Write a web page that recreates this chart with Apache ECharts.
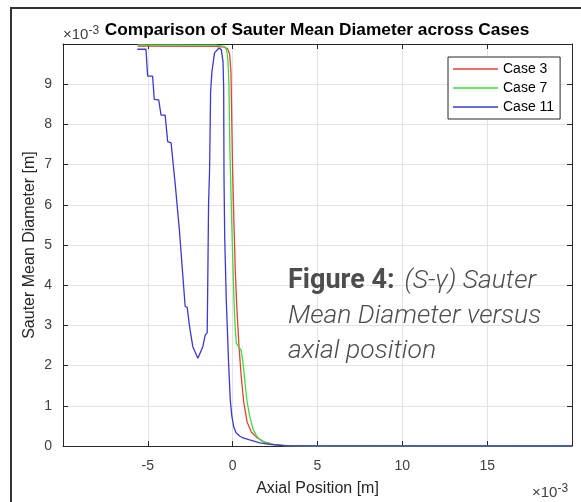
<!DOCTYPE html>
<html><head><meta charset="utf-8">
<script src="https://cdn.jsdelivr.net/npm/echarts@6/dist/echarts.min.js"></script>
<style>html,body{margin:0;padding:0;background:#fff}#c{width:581px;height:502px}</style>
</head><body><div id="c"></div>
<script>
// values in units of 1e-3 (mm)
const xTickLabels = ['-5', '0', '5', '10', '15'];
const yTickLabels = ['0', '1', '2', '3', '4', '5', '6', '7', '8', '9'];
const seriesNames = ['Case 3', 'Case 7', 'Case 11'];

const case3X = [-5.6, -1.0, -0.45, -0.3, -0.18, -0.1, -0.05, 0.0, 0.08, 0.15, 0.25, 0.37, 0.5, 0.65, 0.85, 1.1, 1.4, 1.8, 2.4, 3.2, 4.5, 20];
const case3Y = [9.95, 9.94, 9.92, 9.88, 9.75, 9.3, 8.0, 6.8, 5.5, 4.4, 3.4, 2.5, 1.75, 1.1, 0.6, 0.35, 0.22, 0.11, 0.04, 0.01, 0, 0];

const case7X = [-5.6, -1.0, -0.5, -0.35, -0.28, -0.22, -0.17, -0.1, -0.02, 0.08, 0.15, 0.22, 0.35, 0.5, 0.6, 0.72, 0.85, 1.0, 1.2, 1.4, 1.6, 1.9, 2.2, 2.6, 3.0, 4.5, 20];
const case7Y = [9.98, 9.97, 9.94, 9.85, 9.6, 9.0, 7.5, 6.3, 5.0, 3.6, 2.9, 2.55, 2.47, 2.38, 2.1, 1.6, 1.1, 0.75, 0.42, 0.26, 0.16, 0.09, 0.05, 0.02, 0.01, 0, 0];

const case11X = [-5.62, -5.11, -5.01, -4.72, -4.62, -4.36, -4.22, -3.98, -3.83, -3.63, -3.39, -3.33, -3.14, -3.04, -2.80, -2.68, -2.54, -2.35, -2.05, -1.76, -1.62, -1.50, -1.46, -1.42, -1.36, -1.30, -1.22, -1.07, -0.81, -0.67, -0.57, -0.53, -0.51, -0.47, -0.37, -0.24, -0.14, -0.05, 0.06, 0.20, 0.41, 0.61, 1.0, 1.6, 2.2, 3.0, 4.0, 20];
const case11Y = [9.87, 9.87, 9.20, 9.20, 8.62, 8.61, 8.23, 8.23, 7.57, 7.54, 6.53, 6.52, 5.37, 5.33, 3.47, 3.45, 2.97, 2.47, 2.18, 2.47, 2.76, 2.82, 4.38, 6.04, 6.87, 8.82, 9.32, 9.78, 9.90, 9.86, 9.57, 8.9, 6.67, 5.21, 3.55, 2.06, 1.14, 0.75, 0.48, 0.33, 0.25, 0.20, 0.15, 0.08, 0.04, 0.01, 0.002, 0];

const seriesColors = ['#e2403a', '#3edc3e', '#3a3ad0'];

function zip(xs, ys) { return xs.map((x, i) => [x, ys[i]]); }

const FONT = 'Liberation Sans, Arial, sans-serif';
const AX = '#262626';

const chart = echarts.init(document.getElementById('c'), null, {renderer: 'canvas'});
const xBase = {
  type: 'value', min: -10, max: 20, interval: 5,
  axisLine: {show: true, onZero: false, lineStyle: {color: AX, width: 1}},
  axisTick: {show: true, inside: true, length: 5, lineStyle: {color: AX}},
};
const yBase = {
  type: 'value', min: 0, max: 10, interval: 1,
  axisLine: {show: true, onZero: false, lineStyle: {color: AX, width: 1}},
  axisTick: {show: true, inside: true, length: 5, lineStyle: {color: AX}},
};
const expRich = {a: {fontFamily: FONT, fontSize: 15, fill: '#404040'},
                 b: {fontFamily: FONT, fontSize: 12, fill: '#404040', padding: [0, 0, 9, 0]}};
chart.setOption({
  animation: false,
  backgroundColor: '#fff',
  grid: {left: 63, top: 44, right: 9, bottom: 56, containLabel: false},
  xAxis: [
    Object.assign({}, xBase, {
      position: 'bottom',
      name: 'Axial Position [m]', nameLocation: 'middle', nameGap: 35, nameMoveOverlap: false,
      nameTextStyle: {fontFamily: FONT, fontSize: 16, color: AX},
      axisLabel: {fontFamily: FONT, fontSize: 14, color: '#404040', margin: 13,
        formatter: v => xTickLabels.includes(String(v)) ? String(v) : ''},
      splitLine: {show: true, lineStyle: {color: '#e3e3e3', width: 1}}
    }),
    Object.assign({}, xBase, {position: 'top', axisLabel: {show: false}, splitLine: {show: false}})
  ],
  yAxis: [
    Object.assign({}, yBase, {
      position: 'left',
      name: 'Sauter Mean Diameter [m]', nameLocation: 'middle', nameGap: 25, nameMoveOverlap: false,
      nameTextStyle: {fontFamily: FONT, fontSize: 16, color: AX},
      axisLabel: {fontFamily: FONT, fontSize: 14, color: '#404040', margin: 11,
        formatter: v => yTickLabels.includes(String(v)) ? String(v) : ''},
      splitLine: {show: true, lineStyle: {color: '#e3e3e3', width: 1}}
    }),
    Object.assign({}, yBase, {position: 'right', axisLabel: {show: false}, splitLine: {show: false}})
  ],
  legend: {
    orient: 'vertical', left: 448, top: 57,
    data: seriesNames,
    icon: 'rect', itemWidth: 45, itemHeight: 1.5, itemGap: 5,
    padding: [5, 6, 5, 5],
    borderColor: AX, borderWidth: 1, backgroundColor: '#fff',
    textStyle: {fontFamily: FONT, fontSize: 14, color: '#000'}
  },
  series: [
    {name: seriesNames[0], type: 'line', data: zip(case3X, case3Y), showSymbol: false, symbol: 'none',
      lineStyle: {color: seriesColors[0], width: 1.3}, itemStyle: {color: seriesColors[0]}},
    {name: seriesNames[1], type: 'line', data: zip(case7X, case7Y), showSymbol: false, symbol: 'none',
      lineStyle: {color: seriesColors[1], width: 1.3}, itemStyle: {color: seriesColors[1]}},
    {name: seriesNames[2], type: 'line', data: zip(case11X, case11Y), showSymbol: false, symbol: 'none',
      lineStyle: {color: seriesColors[2], width: 1.3}, itemStyle: {color: seriesColors[2]}}
  ],
  graphic: [
    {type: 'line', shape: {x1: 10, y1: 8, x2: 581, y2: 8}, style: {stroke: '#333', lineWidth: 2}, z: 100},
    {type: 'line', shape: {x1: 11, y1: 7, x2: 11, y2: 502}, style: {stroke: '#333', lineWidth: 2}, z: 100},
    {type: 'text', x: 317, y: 30, z: 100, style: {
      text: 'Comparison of Sauter Mean Diameter across Cases', fill: '#000',
      font: 'bold 17.3px ' + FONT, align: 'center', verticalAlign: 'middle'}},
    {type: 'text', x: 63, y: 35, z: 100, style: {
      text: '{a|×10}{b|-3}', align: 'left', verticalAlign: 'middle', rich: expRich}},
    {type: 'text', x: 532, y: 493, z: 100, style: {
      text: '{a|×10}{b|-3}', align: 'left', verticalAlign: 'middle', rich: expRich}},
    {type: 'text', x: 288, y: 264, z: 100, style: {
      text: '{b|Figure 4:}   {i|(S-γ) Sauter}\n{i|Mean Diameter versus}\n{i|axial position}',
      align: 'left', verticalAlign: 'top',
      rich: {
        b: {fontFamily: 'Roboto', fontWeight: 'bold', fontSize: 27, lineHeight: 35, fill: '#4d4d4d'},
        i: {fontFamily: 'Roboto', fontStyle: 'italic', fontWeight: 300, fontSize: 26.5, lineHeight: 35, fill: '#4d4d4d'}
      }}}
  ]
});
</script></body></html>
